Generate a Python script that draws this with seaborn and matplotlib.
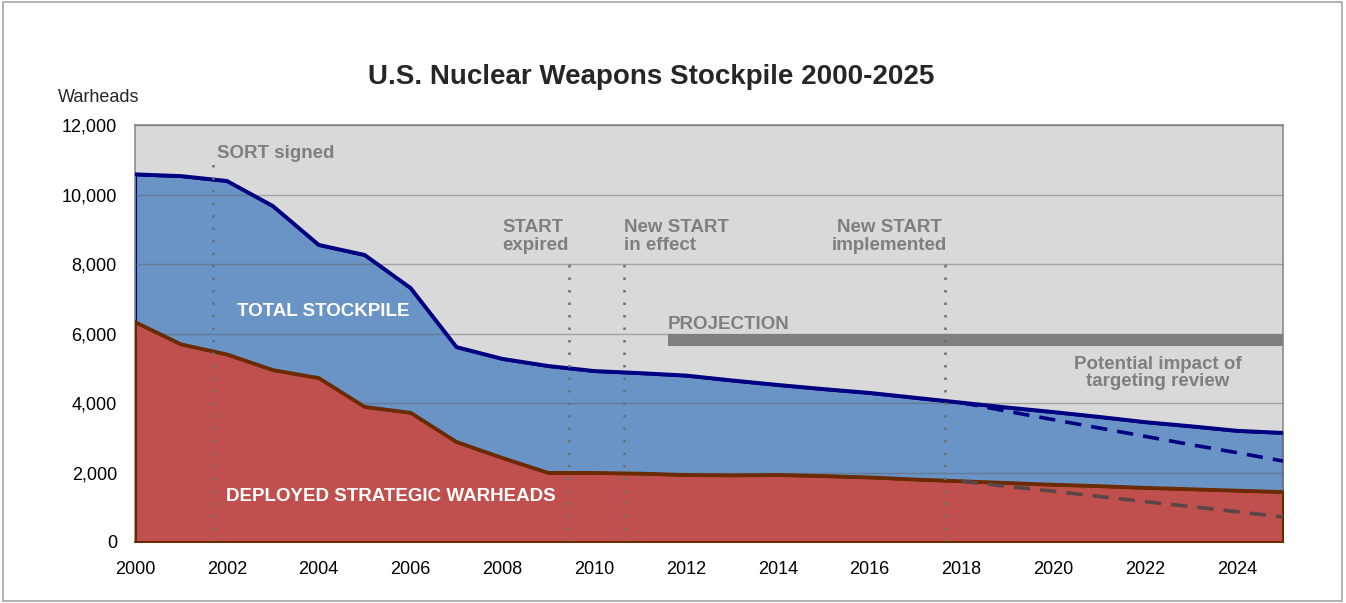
import numpy as np
import pandas as pd
import matplotlib
matplotlib.use('Agg')
import matplotlib.pyplot as plt
from matplotlib.patches import Rectangle
import seaborn as sns

# ------------------------------------------------------------
# data
# ------------------------------------------------------------
years = list(range(2000, 2026))
total_stockpile = [10580, 10530, 10390, 9670, 8550, 8260, 7310, 5610, 5270, 5065,
                   4920, 4860, 4790, 4650, 4520, 4400, 4290, 4150, 4010, 3870,
                   3740, 3600, 3450, 3330, 3200, 3140]
deployed = [6330, 5690, 5400, 4950, 4720, 3890, 3720, 2880, 2420, 1990,
            1990, 1970, 1930, 1920, 1930, 1900, 1860, 1800, 1750, 1700,
            1650, 1610, 1560, 1520, 1480, 1440]

# targeting review scenario (dashed)
review_years = list(range(2018, 2026))
review_total = [4010, 3760, 3520, 3280, 3040, 2800, 2570, 2330]
review_deployed = [1750, 1600, 1460, 1310, 1160, 1020, 870, 720]

# events (vertical dotted lines)
event_x = [2001.7, 2009.45, 2010.65, 2017.63]
event_top = [11150, 8200, 8200, 8200]

projection_start = 2011.6
projection_band = (5630, 6000)

df = pd.DataFrame({'year': years, 'total': total_stockpile, 'deployed': deployed})
df_rev = pd.DataFrame({'year': review_years, 'total': review_total,
                       'deployed': review_deployed})

# ------------------------------------------------------------
# style
# ------------------------------------------------------------
sns.set_style('white')
plt.rcParams['font.family'] = ['Liberation Sans', 'DejaVu Sans']

BG = '#d9d9d9'
BLUE = '#6a93c6'
NAVY = '#000080'
RED = '#c0504d'
BROWN = '#6b2a00'
GRAY_TXT = '#7f7f7f'

fig = plt.figure(figsize=(13.46, 6.03), dpi=100)
ax = fig.add_axes([135 / 1346, 1 - 542 / 603, (1283 - 135) / 1346, (542 - 125) / 603])
ax.set_facecolor(BG)

# areas
ax.fill_between(df['year'], df['deployed'], df['total'], facecolor=BLUE,
                edgecolor=NAVY, lw=2.2, zorder=2)
ax.fill_between(df['year'], 0, df['deployed'], facecolor=RED,
                edgecolor=BROWN, lw=2.2, zorder=4)

# gridlines: over the grey background and faintly through the blue area
for v in range(2000, 12001, 2000):
    ax.axhline(v, color='#5f5f5f', lw=1.0, alpha=0.45, zorder=3)

# outline lines
sns.lineplot(data=df, x='year', y='total', color=NAVY, lw=2.8, ax=ax, zorder=5)
sns.lineplot(data=df, x='year', y='deployed', color=BROWN, lw=2.6, ax=ax, zorder=5)
sns.lineplot(data=df_rev, x='year', y='total', color=NAVY, lw=2.6,
             ax=ax, zorder=5, linestyle=(0, (4.5, 2.8)))
sns.lineplot(data=df_rev, x='year', y='deployed', color='#5a4646', lw=2.6,
             ax=ax, zorder=5, linestyle=(0, (4.5, 2.8)))

# event lines
for x, top in zip(event_x, event_top):
    ax.plot([x, x], [0, top], color='#6e6e6e', lw=1.8,
            linestyle=(0, (1, 4)), zorder=6)

# projection bar
ax.fill_between([projection_start, 2025], projection_band[0], projection_band[1],
                color='#7f7f7f', lw=0, zorder=4)

# annotations
kw = dict(color=GRAY_TXT, fontsize=13.5, fontweight='bold', zorder=7, linespacing=1.05)
ax.text(2001.78, 11180, 'SORT signed', ha='left', va='center', **kw)
ax.text(2008.0, 8800, 'START\nexpired', ha='left', va='center', **kw)
ax.text(2010.65, 8800, 'New START\nin effect', ha='left', va='center', **kw)
ax.text(2016.43, 8800, 'New START\nimplemented', ha='center', va='center', **kw)
ax.text(2011.61, 6270, 'PROJECTION', ha='left', va='center', **kw)
ax.text(2022.27, 4860, 'Potential impact of\ntargeting review', ha='center',
        va='center', **kw)

ax.text(2004.1, 6620, 'TOTAL STOCKPILE', ha='center', va='center', color='white',
        fontsize=13.5, fontweight='bold', zorder=7)
ax.text(2005.56, 1320, 'DEPLOYED STRATEGIC WARHEADS', ha='center', va='center',
        color='white', fontsize=13.5, fontweight='bold', zorder=7)

# axes
ax.set_xlim(2000, 2025)
ax.set_ylim(0, 12000)
ax.set_xticks(range(2000, 2026, 2))
ax.set_xticks(range(2000, 2026), minor=True)
ax.set_yticks(range(0, 12001, 2000))
ax.set_yticklabels([f'{v:,}' for v in range(0, 12001, 2000)])
ax.set_xlabel('')
ax.set_ylabel('')
ax.tick_params(axis='both', which='both', direction='out', length=4, width=1,
               color='#8c8c8c', labelsize=13, labelcolor='black')
ax.tick_params(axis='x', which='major', pad=10)
ax.tick_params(axis='y', which='major', pad=9)
for s in ax.spines.values():
    s.set_color('#8c8c8c')
    s.set_linewidth(1.2)
ax.spines['bottom'].set_color(BROWN)
ax.spines['bottom'].set_zorder(8)

fig.text(58 / 1346, 1 - 98 / 603, 'Warheads', ha='left', va='center', fontsize=13)
fig.text(651 / 1346, 1 - 77 / 603, 'U.S. Nuclear Weapons Stockpile 2000-2025',
         ha='center', va='center', fontsize=20, fontweight='bold')

# outer frame
fig.patches.append(Rectangle((0.002, 0.003), 0.995, 0.994, transform=fig.transFigure,
                             fill=False, edgecolor='#a6a6a6', lw=1.2))

fig.savefig('out.png', dpi=100)
plt.close(fig)
